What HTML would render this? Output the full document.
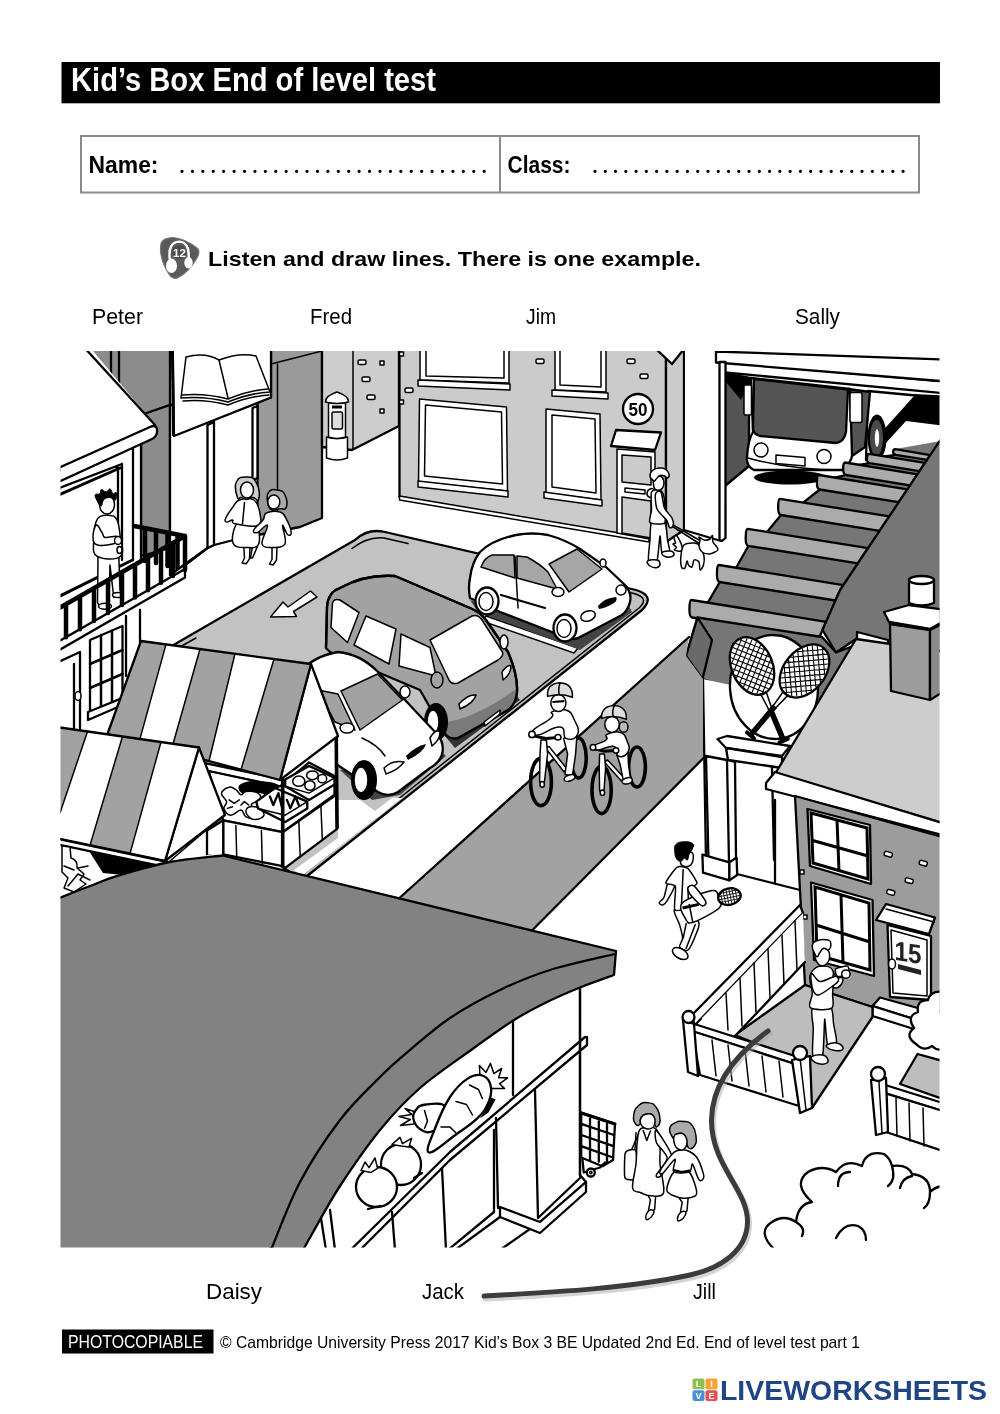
<!DOCTYPE html>
<html lang="en">
<head>
<meta charset="utf-8">
<title>Kid's Box End of level test</title>
<style>
html,body{margin:0;padding:0;background:#fff;}
body{width:1000px;height:1414px;overflow:hidden;position:relative;font-family:"Liberation Sans",sans-serif;}
svg{position:absolute;left:0;top:0;display:block;will-change:transform;}
text{font-family:"Liberation Sans",sans-serif;}
.k{stroke:#000;stroke-width:2.3;stroke-linejoin:round;stroke-linecap:round;}
.k1{stroke:#000;stroke-width:1.5;stroke-linejoin:round;stroke-linecap:round;}
.k3{stroke:#000;stroke-width:3;stroke-linejoin:round;stroke-linecap:round;}
.n{fill:none;}
.w{fill:#fff;}
</style>
</head>
<body>
<svg width="1000" height="1414" viewBox="0 0 1000 1414">
<rect x="0" y="0" width="1000" height="1414" fill="#fff"/>
<!-- header -->
<rect x="61.500" y="62" width="878.500" height="41.300" fill="#000"/>
<text x="71" y="91" font-size="33" font-weight="bold" fill="#fff" textLength="365" lengthAdjust="spacingAndGlyphs">Kid’s Box End of level test</text>
<rect x="81" y="136" width="838" height="56.500" fill="#fff" stroke="#8a8a8a" stroke-width="2"/>
<line x1="500" y1="135.5" x2="500" y2="192" stroke="#8a8a8a" stroke-width="2"/>
<text x="88.500" y="173.300" font-size="24" font-weight="bold" fill="#000" textLength="70" lengthAdjust="spacingAndGlyphs">Name:</text>
<text x="507.500" y="173.300" font-size="24" font-weight="bold" fill="#000" textLength="63" lengthAdjust="spacingAndGlyphs">Class:</text>
<line x1="182" y1="171.300" x2="485" y2="171.300" stroke="#000" stroke-width="3.300" stroke-dasharray="0 10.42" stroke-linecap="round"/>
<line x1="595" y1="171.300" x2="904" y2="171.300" stroke="#000" stroke-width="3.300" stroke-dasharray="0 10.27" stroke-linecap="round"/>
<!-- listen icon -->
<g>
<path class="" fill="#5a5a5a" stroke="#777" stroke-width="1.2" d="M 161.6 242.1 Q 164.3 237.7 173.1 237.5 Q 186.3 238.8 197.9 248.7 Q 200.1 252.0 197.3 257.5 Q 189.6 271.8 177.5 277.9 Q 173.7 279.5 170.4 276.2 Q 161.0 263.0 160.5 249.8 Q 160.5 244.3 161.6 242.1 Z"/>
<path class="" fill="none" stroke="#fff" stroke-width="2.4" d="M 169.8 259.7 Q 167.6 242.1 179.2 241.6 Q 189.6 242.1 188.7 258.1"/>
<ellipse class="" fill="#4a4a4a" cx="179.2" cy="252.0" rx="6.8" ry="6.8"/>
<ellipse class="" fill="#fff" cx="171.5" cy="265.8" rx="5.5" ry="7.2"/>
<ellipse class="" fill="#fff" cx="188.5" cy="262.7" rx="4.2" ry="5.7"/>
<text x="179.5" y="256.7" font-size="11.5" font-weight="bold" fill="#fff" text-anchor="middle">12</text>
</g>
<text x="208" y="265.500" font-size="21" font-weight="bold" fill="#000" textLength="493" lengthAdjust="spacingAndGlyphs">Listen and draw lines. There is one example.</text>
<text x="92" y="324" font-size="21.5" fill="#000" textLength="51" lengthAdjust="spacingAndGlyphs">Peter</text>
<text x="310" y="324" font-size="21.5" fill="#000" textLength="42" lengthAdjust="spacingAndGlyphs">Fred</text>
<text x="526" y="324" font-size="21.5" fill="#000" textLength="30" lengthAdjust="spacingAndGlyphs">Jim</text>
<text x="795" y="324" font-size="21.5" fill="#000" textLength="45" lengthAdjust="spacingAndGlyphs">Sally</text>
<!-- illustration -->
<defs><clipPath id="ic"><rect x="60.5" y="351" width="879" height="896.5"/></clipPath></defs>
<g clip-path="url(#ic)">
<!-- ground base line of left buildings -->
<!-- grey wall A behind left roof -->
<polygon class="k" fill="#8c8c8c" points="86,349 170,349 170,405 142.500,415 142.500,412"/>
<polygon class="k" fill="#8c8c8c" points="141,415 170,405 170,548 141,556"/>
<line class="k" x1="111" y1="349" x2="111" y2="377"/><line class="k" x1="119" y1="349" x2="119" y2="386"/>
<!-- shop with book sign -->
<polygon class="k w" points="170,405 271,397 257.500,534 214,545 207.500,548 170,575"/>
<polygon class="k" fill="#9a9a9a" points="271,349 322,349 322,518 300,527 257.500,535 257.500,397.500 271,397.500"/>
<line class="k1" x1="277.500" y1="364" x2="277.500" y2="538"/>
<line class="k1" x1="271" y1="364" x2="322" y2="351"/>
<polygon class="k w" points="207.500,425 214,422 214,545 207.500,548"/>
<polygon class="k w" points="252.500,408 257.500,406 257.500,478 252.500,480"/>
<polygon class="k w" points="172.500,349 271,349 271,397.500 174,436"/>
<line class="k3" x1="172.500" y1="351" x2="173.500" y2="435"/>
<!-- book -->
<path class="k1 w" d="M181 398 L186 357 Q205 352 219 360 Q240 352 256 356 L270 392 Q250 393 228 402 Q205 396 181 398Z"/>
<path class="k1 n" d="M219 360 L228 398 M183 401 Q205 399 228 405 Q250 396 269 395 M182 395 Q205 393 228 399 Q250 390 268 389"/>
<!-- wall D light grey with post box -->
<polygon class="k" fill="#cdcdcd" points="322,349 399,349 399,426 352,450 322,447"/>
<line class="k1" x1="353" y1="351" x2="353" y2="449"/>
<g class="k1 w"><rect x="362" y="377" width="8" height="4.500" rx="1.500"/><rect x="367" y="395" width="8" height="4.500" rx="1.500"/><rect x="358" y="360" width="8" height="4.500" rx="1.500"/><rect x="380" y="361" width="4" height="4"/><rect x="380" y="409" width="4" height="4"/></g>
<!-- post box -->
<path class="k1 w" d="M326.500 443 L326.500 458 Q337 462 347.500 458 L347.500 437 Q337 440 326.500 437Z"/>
<path class="k1 w" d="M328.500 437 L328.500 402 L345.500 402 L345.500 437 Q337 440 328.500 437Z"/>
<path class="k1 w" d="M325.500 402 Q325 396 337 392 Q349 396 348.500 402 Q337 405 325.500 402Z"/>
<rect x="332" y="405.500" width="10" height="3" fill="#000"/>
<rect class="k1" x="332" y="412" width="10.500" height="17" rx="1.500" fill="#ddd"/>
<!-- main building E -->
<polygon class="k" fill="#cbcbcb" points="399.500,349 666,349 666,542 399.500,497"/>
<polygon class="k" fill="#cbcbcb" points="666,349 684,349 684,530 666,542"/>
<polygon class="k w" points="656,349 684,349 672,364"/>
<polygon class="k1 w" points="399.500,496 649,538 649,542 399.500,500"/>
<!-- windows -->
<g class="k1 w">
<polygon points="420,349 509,349 509,383 420,380"/><polygon points="426,349 504,349 504,378 426,376"/><polygon points="418,380 510,384 510,390 418,386"/>
<polygon points="419.500,399 506.500,407 507.500,491 418.500,482"/><polygon points="425.500,405 501.500,412 502.500,484 424.500,476"/><polygon points="418,481 508,491 508,497 418,487"/>
<polygon points="555,349 606,349 606,392 555,390"/><polygon points="560,349 601,349 601,387 560,385"/><polygon points="552,390 608,393 608,399 552,396"/>
<polygon points="546,409 600,414 601,500 546,493"/><polygon points="552,415 595,419 596,493 552,487"/><polygon points="544,492 602,500 602,506 544,498"/>
<rect x="405" y="388" width="8" height="4.500" rx="1.500"/><rect x="536" y="359" width="8" height="4.500" rx="1.500"/><rect x="627" y="359" width="8" height="4.500" rx="1.500"/><rect x="640" y="374" width="8" height="4.500" rx="1.500"/><rect x="399.500" y="352" width="4" height="4"/><rect x="399.500" y="400" width="4" height="4"/>
</g>
<!-- 50 sign -->
<circle class="k w" cx="638" cy="409" r="15"/>
<text x="638" y="416" font-size="19" font-weight="bold" text-anchor="middle" textLength="19" lengthAdjust="spacingAndGlyphs">50</text>
<!-- door -->
<polygon class="k1 w" points="617,449 655,452 655,540 617,533"/>
<polygon class="k1" fill="#cbcbcb" points="622,455 651,457 651,485 622,482"/>
<polygon class="k1" fill="#cbcbcb" points="622,497 651,501 651,538 622,533"/>
<polygon class="k1 w" points="625,488 645,490 645,494 625,492"/>
<polygon class="k w" points="616,430 661,432.500 655,450 611,446"/>
<line class="k1" x1="666" y1="375" x2="666" y2="540"/>
<!-- left house (white) -->
<polygon fill="#fff" points="54,345 88,345 155,425 141,432 141,760 54,760"/>
<!-- wall lines -->
<path class="k n" d="M141 432 L141 560 M133 436 L133 560"/>
<!-- door opening frame -->
<path class="k n" d="M122 464 L122 560 M118 468 L118 560 M54 490 L122 464"/>
<!-- roof -->
<polygon class="k w" points="54,345 82,345 87.500,351 155,425 54,473"/>
<path class="k w" d="M54 470 L150 427 Q158 424 157 432 Q157 436 152 439 L54 484Z"/>
<path class="k3 n" d="M54 497 L120 468"/>
<!-- balcony back -->
<path class="k3 n" d="M54 599 L132.500 560"/>
<path d="M134 526 L185 536 M145 529 L145 561 M156 531 L156 563 M167.500 533 L167.500 566 M177.500 535 L177.500 568" stroke="#000" stroke-width="4.500" fill="none" stroke-linecap="round"/>
<!-- man on balcony -->
<polygon class="k1 w"  points="98.0,556.2 118.8,556.2 120.0,590.0 122.5,596.2 113.8,597.5 110.0,565.0 108.8,606.2 100.0,607.5 97.5,602.5"/>
<ellipse class="k1 w"  cx="105.0" cy="606.2" rx="6.5" ry="3.0"/>
<ellipse class="k1 w"  cx="118.0" cy="595.0" rx="5.5" ry="2.5"/>
<path class="k1 w"  d="M97.5 518.8 C100.8 513.9 106.1 515.2 110.0 515.5 C113.9 515.8 115.0 516.1 117.0 520.0 C119.0 523.9 119.3 527.8 120.0 535.0 C120.7 542.2 125.1 552.0 120.5 556.2 C115.9 560.5 102.3 559.5 97.0 556.2 C91.7 553.0 93.7 547.5 93.8 540.0 C93.8 532.5 94.2 523.6 97.5 518.8Z"/>
<path class="k1 w"  d="M96.2 525.0 C94.5 526.0 92.8 533.5 93.0 537.5 C93.2 541.5 93.3 543.8 97.5 545.0 C101.7 546.2 109.7 544.8 113.8 543.8 C117.8 542.8 117.5 541.5 118.0 540.0 C118.5 538.5 118.8 536.8 116.2 536.2 C113.7 535.8 107.8 538.2 105.0 537.5 C102.2 536.8 103.8 535.0 102.0 532.5 C100.2 530.0 98.0 524.0 96.2 525.0Z"/>
<ellipse class="k1 w"  cx="118.0" cy="540.5" rx="3.5" ry="4.0"/>
<ellipse class="k1 w"  cx="119.5" cy="550.0" rx="2.5" ry="3.5"/>
<ellipse class="k1 w"  cx="107.0" cy="504.5" rx="7.5" ry="9.5"/>
<path class="" fill="#000" stroke="#000" stroke-width="1" d="M98.0 502.5 C97.0 500.6 94.7 496.5 95.0 495.0 C95.3 493.5 99.0 494.7 100.0 493.8 C101.0 492.8 100.2 489.8 101.2 489.5 C102.3 489.2 104.8 492.1 106.2 492.0 C107.7 491.9 108.9 488.5 110.0 488.8 C111.1 489.0 112.0 493.1 113.0 493.8 C114.0 494.4 115.8 491.5 116.2 492.5 C116.7 493.5 116.5 499.2 115.5 500.0 C114.5 500.8 112.0 497.6 110.0 497.5 C108.0 497.4 105.2 498.0 103.8 499.5 C102.3 501.0 102.2 505.8 101.2 506.2 C100.3 506.8 99.0 504.4 98.0 502.5Z"/>
<!-- railing front -->
<polygon class="k w" points="54,644.1 185,569 185,577.500 54,653.1"/>
<path d="M54 611.1 L185 536 L185 570 M66.0 604.2 L66.0 637.2 M80.0 596.2 L80.0 629.2 M94.0 588.1 L94.0 621.1 M108.0 580.1 L108.0 613.1 M122.0 572.1 L122.0 605.1 M135.0 564.6 L135.0 597.6 M148.0 557.2 L148.0 590.2 M161.0 549.8 L161.0 582.8 M173.0 542.9 L173.0 575.9" stroke="#000" stroke-width="4.500" fill="none" stroke-linecap="round" stroke-linejoin="round"/>
<!-- lower wall: window and door -->
<path class="k n" d="M140 610 L140 668 M126 616 L126 676 M54 664 L80 652 L80 735 M74 664 L74 735"/>
<g class="k n"><polygon class="w" points="90,640 122.500,626 122.500,698 90,712"/><path d="M101 635 L101 707 M112 631 L112 703 M90 664 L122.500 650 M90 688 L122.500 674" stroke-width="2.500"/><polygon points="88,712 125,697 125,704 88,720" class="w"/></g>
<ellipse class="k1 w" cx="78" cy="696" rx="3" ry="4.500"/>
<!-- garage -->
<polygon fill="#fff" points="716,349 946,349 946,560 716,545"/>
<!-- interior dark left wall -->
<polygon class="k" fill="#555" points="725,372 749,388 749,466 725,486"/>
<polygon fill="#000" points="725,372 754,377.500 741,400 725,381"/>
<!-- black shadow right -->
<polygon fill="#000" points="914,394 946,395.500 946,426 906,421 884,445 885,430"/>
<!-- bus side -->
<polygon class="k w" points="868,391 916,395.500 885,430 883,452 866,460"/>
<polygon class="k" fill="#555" points="848,389 870,392 865,447 852,456"/>
<ellipse cx="877" cy="437.500" rx="9.500" ry="23" fill="#000"/>
<ellipse cx="876.500" cy="438" rx="6.500" ry="18" fill="#4a4a4a"/>
<ellipse cx="877" cy="438" rx="2.200" ry="9" fill="#fff"/>
<!-- bus shadow -->
<ellipse cx="790" cy="477.500" rx="36" ry="7" fill="#000"/>
<!-- bus body -->
<path class="k w" d="M751 378 L850 389 L852 455 Q852 462 842 470 L754 470 Q746 466 747 457 Q748 440 753 432Z"/>
<path class="k" fill="#555" d="M754 379 L848 389.500 L846 432 Q844 442 836 443 L760 436 Q753 434 753 428Z"/>
<rect class="k1 w" x="744" y="385" width="7.500" height="30" rx="1.500"/>
<rect class="k1 w" x="850" y="392.500" width="12" height="30" rx="2"/>
<circle class="k1 w" cx="761" cy="450" r="7"/><circle class="k1 w" cx="824" cy="456.500" r="7"/>
<polygon class="k1 w" points="776,455 805,457.500 805,466 776,463.500"/>
<path class="k1 n" d="M748 458 Q790 470 842 470"/>
<!-- beam -->
<polygon fill="#fff" points="685,351 719,351 719,540 685,531"/>
<polygon class="k w" points="725,362 946,381.500 946,393.500 725,372.500"/>
<polygon class="k w" points="716,351.500 946,359.500 946,381.500 716,362.500"/>
<!-- pillar -->
<polygon class="k w" points="719.500,362 725.500,362 725.500,538 722,541 719.500,540"/>
<line class="k" x1="684" y1="530" x2="721" y2="541"/>
<!-- corrugated roof -->
<polygon fill="#767676" points="893.8,449.2 895.8,454.8 884.5,456.5 867.5,453.8 869.5,463.2 859.2,465.0 843.8,462.5 845.8,475.0 834.5,477.7 817.5,475.0 819.5,489.5 803.2,502.7 778.8,498.8 780.8,515.0 767.0,532.1 746.2,528.8 748.2,545.8 736.0,568.0 717.5,565.0 719.5,582.0 707.7,602.8 690.0,600.0 692.0,617.5 822.5,632.0 840.0,590.0 939.5,441.2"/>
<line class="k" x1="896.0" y1="454.8" x2="884.5" y2="456.5"/>
<line class="k" x1="869.8" y1="463.2" x2="859.2" y2="465.0"/>
<line class="k" x1="846.0" y1="475.0" x2="834.5" y2="477.7"/>
<line class="k" x1="819.8" y1="489.5" x2="803.2" y2="502.7"/>
<line class="k" x1="781.0" y1="515.0" x2="767.0" y2="532.1"/>
<line class="k" x1="748.5" y1="545.8" x2="736.0" y2="568.0"/>
<line class="k" x1="719.8" y1="582.0" x2="707.7" y2="602.8"/>
<path class="k" fill="#ababab" d="M895.2 449.2 L930.2 455.1 L927.1 459.8 L895.8 454.8 Q892.8 453.8 893.2 451.7 Q893.2 449.2 895.2 449.2Z"/>
<path class="k" fill="#ababab" d="M869.0 453.8 L925.0 462.9 L919.4 471.2 L869.5 463.2 Q866.5 462.2 867.0 458.0 Q867.0 453.8 869.0 453.8Z"/>
<path class="k" fill="#ababab" d="M845.2 462.5 L917.4 474.3 L910.0 485.3 L845.8 475.0 Q842.8 474.0 843.2 468.1 Q843.2 462.5 845.2 462.5Z"/>
<path class="k" fill="#ababab" d="M819.0 475.0 L907.3 489.4 L898.7 502.2 L819.5 489.5 Q816.5 488.5 817.0 481.5 Q817.0 475.0 819.0 475.0Z"/>
<path class="k" fill="#ababab" d="M780.2 498.8 L889.2 516.4 L879.6 530.8 L780.8 515.0 Q777.8 514.0 778.2 506.1 Q778.2 498.8 780.2 498.8Z"/>
<path class="k" fill="#ababab" d="M747.8 528.8 L867.9 548.2 L857.9 563.3 L748.2 545.8 Q745.2 544.8 745.8 536.4 Q745.8 528.8 747.8 528.8Z"/>
<path class="k" fill="#ababab" d="M719.0 565.0 L843.3 585.1 L835.4 600.5 L719.5 582.0 Q716.5 581.0 717.0 572.6 Q717.0 565.0 719.0 565.0Z"/>
<path class="k" fill="#ababab" d="M691.5 600.0 L826.1 621.8 L819.1 637.8 L692.0 617.5 Q689.0 616.5 689.5 607.9 Q689.5 600.0 691.5 600.0Z"/>
<!-- big dark slope -->
<polygon class="k" fill="#767676" points="946,431.500 840,590 822.500,630 836,652.500 856,639 946,652"/>
<!-- tennis shop fascia -->
<polygon class="k" fill="#767676" points="697.500,617.500 822,637 836,652.500 856,645 812,716 702.500,679 686,656"/>
<polygon class="k" fill="#6a6a6a" points="697.500,617.500 686,656 702.500,679 712,640"/>
<!-- shop wall below fascia -->
<polygon class="w" points="703,679 800,700 775,774 795,800 795,990 703,900"/>
<line class="k" x1="703" y1="679" x2="706" y2="862"/>
<!-- racket sign -->
<ellipse class="k w" cx="774" cy="687" rx="44" ry="52" transform="rotate(-4 774 687)"/>
<g transform="translate(752 666) rotate(-23)"><ellipse cx="0" cy="0" rx="20.500" ry="30" class="k w"/><path class="n" stroke="#000" stroke-width="1.100" d="M-1.0 -29.0 L18.4 -9.6 M-18.4 -9.6 L1.0 -29.0 M-6.4 -27.4 L19.5 -1.5 M-19.5 -1.5 L6.4 -27.4 M-10.5 -24.5 L19.2 5.2 M-19.2 5.2 L10.5 -24.5 M-13.7 -20.7 L18.0 11.0 M-18.0 11.0 L13.7 -20.7 M-16.2 -16.2 L16.2 16.2 M-16.2 16.2 L16.2 -16.2 M-18.0 -11.0 L13.7 20.7 M-13.7 20.7 L18.0 -11.0 M-19.2 -5.2 L10.5 24.5 M-10.5 24.5 L19.2 -5.2 M-19.5 1.5 L6.4 27.4 M-6.4 27.4 L19.5 1.5 M-18.4 9.6 L1.0 29.0 M-1.0 29.0 L18.4 9.6"/><path d="M-3 29 L-1.500 48 M3 29 L1.500 48" class="k1 n"/><path d="M0 46 L0 81" stroke="#000" stroke-width="5.500" stroke-linecap="butt"/><path d="M-4.500 81 L4.500 81" stroke="#000" stroke-width="4" stroke-linecap="round"/></g>
<g transform="translate(804.5 671) rotate(40)"><ellipse cx="0" cy="0" rx="20.500" ry="30" class="k w"/><path class="n" stroke="#000" stroke-width="1.100" d="M-1.0 -29.0 L18.4 -9.6 M-18.4 -9.6 L1.0 -29.0 M-6.4 -27.4 L19.5 -1.5 M-19.5 -1.5 L6.4 -27.4 M-10.5 -24.5 L19.2 5.2 M-19.2 5.2 L10.5 -24.5 M-13.7 -20.7 L18.0 11.0 M-18.0 11.0 L13.7 -20.7 M-16.2 -16.2 L16.2 16.2 M-16.2 16.2 L16.2 -16.2 M-18.0 -11.0 L13.7 20.7 M-13.7 20.7 L18.0 -11.0 M-19.2 -5.2 L10.5 24.5 M-10.5 24.5 L19.2 -5.2 M-19.5 1.5 L6.4 27.4 M-6.4 27.4 L19.5 1.5 M-18.4 9.6 L1.0 29.0 M-1.0 29.0 L18.4 9.6"/><path d="M-3 29 L-1.500 48 M3 29 L1.500 48" class="k1 n"/><path d="M0 46 L0 84" stroke="#000" stroke-width="5.500" stroke-linecap="butt"/><path d="M-4.500 84 L4.500 84" stroke="#000" stroke-width="4" stroke-linecap="round"/></g>
<!-- lintel -->
<polygon class="k w" points="717.500,739 727,736 790,746 782,756 726,748"/>
<polygon class="k w" points="726,748 782,757 782,768 728,760"/>
<path class="k n" d="M772 768 L774 860"/>
<!-- pillar base -->
<polygon class="k w" points="706,756 727,760 735,762 736,858 729,863 708.400,857"/>
<line class="k" x1="727" y1="760" x2="729" y2="862"/>
<polygon class="k w" points="702.400,854.600 729.400,862.400 729.400,880.400 703,872.600"/>
<polygon class="k w" points="729.400,862.400 736.600,857.600 737.200,875 729.400,880.400"/>
<path class="k n" d="M737 874 L800 890 M775 800 L775 884"/>
<!-- house roof -->
<polygon class="k w" points="857,632 888,640 888,648 857,640"/>
<polygon class="k" fill="#cdcdcd" points="856,639 946,652 946,824 775,774"/>
<polygon class="k w" points="766,783 775,772 946,824 946,836 766,789"/>
<!-- chimney -->
<polygon class="k" fill="#9c9c9c" points="890,624 930,630 930,700 891,691"/>
<polygon class="k" fill="#8a8a8a" points="930,630 946,622 946,690 930,700"/>
<polygon class="k w" points="884,612 909,605 946,610 946,620 930,629 889,622"/>
<path class="k w" d="M909 580 L909 603 Q922 608 934 603 L934 580Z"/>
<ellipse class="k w" cx="921.500" cy="580" rx="12.500" ry="4"/>
<!-- house wall -->
<polygon class="k" fill="#9c9c9c" points="795,796 946,838 946,1012 872.500,1007 805,985"/>
<g class="k w">
<polygon points="807.500,809 870,825 871,884 810,866"/>
<polygon points="811,882.500 872.500,900 874,976 814,960"/>
</g>
<path class="n" stroke="#000" stroke-width="3" d="M811 813 L867 828 L868 879 L813 863Z M837 820 L839 871 M811 840 L868 856 M815 887 L869 903 L870 970 L817 955Z M841 895 L843 963 M816 925 L870 942"/>
<g class="k1 w"><rect x="885" y="851" width="8" height="4.500" rx="1.500" transform="rotate(15 885 851)"/><rect x="920" y="860" width="8" height="4.500" rx="1.500" transform="rotate(15 920 860)"/><rect x="906" y="877.500" width="8" height="4.500" rx="1.500" transform="rotate(15 906 877)"/><rect x="887.500" y="889" width="8" height="4.500" rx="1.500" transform="rotate(15 887 889)"/><rect x="800" y="870" width="4" height="4"/><rect x="803" y="915" width="4" height="4"/></g>
<!-- door -->
<polygon class="k w" points="887.500,925 931,936 931,1000 890,997"/>
<polygon class="k1 n" points="891,930 927,940 927,996 893,993"/>
<polygon class="k w" points="876,920 886,904 935,917.500 929,934"/>
<line class="k1" x1="886" y1="909" x2="934" y2="922"/>
<text x="908" y="962" font-size="27" font-weight="bold" text-anchor="middle" fill="#222" textLength="27" lengthAdjust="spacingAndGlyphs" transform="translate(908 955) skewY(9) translate(-908 -955)">15</text>
<polygon points="898,964 921,970 921,975 898,969" fill="#222"/>
<ellipse class="k1 w" cx="892" cy="964" rx="3.500" ry="5"/>
<polygon class="k w" points="872.500,1006 880,997.500 925,1010 917,1020"/>
<polygon class="k w" points="872.500,1006 917,1020 917,1030 872.500,1016"/>
<!-- base line of left buildings / pavement -->
<path class="k n" d="M184 566 L207.500 548"/>
<!-- road -->
<polygon fill="#a2a2a2" points="689,637 686,656 703,679 703,757.500 532.500,931 400,898"/>
<line class="k" x1="689" y1="637" x2="400" y2="897.500"/>
<line class="k" x1="704" y1="757.500" x2="532.500" y2="930"/>
<!-- car park -->
<path class="k" fill="#c2c2c2" d="M355 540 Q368 528 385 532 L636 590 Q656 596 642 610 L302 880 L120 760 L170 647Z"/>
<path class="k1 n" d="M178 648 L196 638 M352 548.500 Q368 536 384 538 L408 543.500"/>
<!-- curb double line -->
<path class="k1 n" d="M600 586 L634 593.500 Q650 598 639 608 L300 877"/>
<polygon class="w" points="338,800 360,800 375,811 392,798 402,798 302,876 294,870 338,838"/>
<!-- arrow -->
<polygon class="k1 w" points="270.500,617 283,602 288,607 310.500,591 317,597 293.500,611.500 296.500,616.500"/>
<!-- right white car -->
<g>
<polygon class="k1 w" points="486,616 578,648 574,653 482,621"/>
<path d="M470 600 L478 612 L580 650 L632 612 L628 604 L578 636Z" fill="#444"/>
<path class="k w" d="M470 598 Q468 588 470 578 Q472 562 480 552 Q492 540 516 535 Q532 532 548 535 Q566 540 580 549 L606 567 L626 586 Q632 594 630 602 Q628 610 622 615 L582 636 Q576 640 570 639 L500 612Z"/>
<path class="k1" fill="#a6a6a6" d="M481 567 Q484 558 492 555 L514 555 L515 578Z"/>
<path class="k1" fill="#a6a6a6" d="M517 556 L527 557 Q540 564 548 572 L557 589 L517 578Z"/>
<path class="k1" fill="#a6a6a6" d="M549 564 L577 549 L602 569 L569 592Z"/>
<path class="k1 n" d="M515 556 L518 608"/>
<path class="n" stroke="#000" stroke-width="2.200" stroke-linecap="round" d="M501 595 L545 608"/>
<ellipse cx="487" cy="601" rx="11.500" ry="13.500" class="k w"/><ellipse class="k1 w" cx="486" cy="601.500" rx="7" ry="9"/>
<ellipse cx="565" cy="628" rx="11.500" ry="13.500" class="k w"/><ellipse class="k1 w" cx="564" cy="628.500" rx="7" ry="9"/>
<ellipse class="k1 w" cx="588" cy="616" rx="7.500" ry="5" transform="rotate(-20 588 616)"/>
<ellipse class="k1 w" cx="621" cy="590" rx="5" ry="5"/>
<ellipse class="k1 w" cx="558" cy="592" rx="6" ry="4.500"/>
<ellipse class="k1 w" cx="603" cy="563" rx="3" ry="4"/>
<path d="M598 606 Q604 598 616 597 Q618 600 614 603 Q606 608 599 609Z" fill="#000"/>
</g>
<!-- van -->
<g>
<path d="M440 730 L455 748 L520 700 L512 690Z" fill="#333"/>
<path class="k" fill="#a2a2a2" d="M326 648 L327 607 Q328 592 340 588 Q365 574 395 576 L470 608 Q480 612 486 620 L508 652 Q518 675 517 692 Q516 704 508 710 L458 738 Q448 740 444 732 L420 690 L330 652Z"/>
<path d="M447 722 Q480 716 517 688 L517 692 Q516 704 508 710 L458 738 Q448 740 446 732Z" fill="#7a7a7a"/>
<path class="k n" d="M326 648 L327 607 Q328 592 340 588 Q365 574 395 576 L470 608 Q480 612 486 620 L508 652 Q518 675 517 692 Q516 704 508 710 L458 738 Q448 740 444 732"/>
<path class="k1 w" d="M332.500 603 Q334 598 340 600 L359 612.500 L347.500 642.500 L331 627.500Z"/>
<path class="k1 w" d="M366 616 L396 629 L389 664 L354 645Z"/>
<path class="k1 w" d="M401 634 L430 647.500 L436 676 L399 666Z"/>
<path class="k1 w" d="M430 640 L472 616 Q478 614 482 620 L502.500 652 Q504 656 498 660 L458 683 Q452 685 449 680Z"/>
<ellipse class="k1" cx="437" cy="680" rx="6" ry="8" fill="#a2a2a2"/>
<ellipse class="k1 w" cx="504" cy="642" rx="4" ry="7"/>
<path class="k1 w" d="M459 704 Q468 694 476 695 Q474 703 460 709Z"/>
<path class="k1 w" d="M502 672 Q508 664 511 666 Q511 674 503 680Z"/>
<polygon class="k1 w" points="484,722 500,710 500,714 485,726"/>
<ellipse cx="436" cy="722" rx="12" ry="19" fill="#000"/><ellipse class="k1 w" cx="433" cy="722" rx="6" ry="12"/>
</g>
<!-- white car front-left -->
<g>
<path d="M340 770 L372 800 L400 795 L446 756 L440 750Z" fill="#444"/>
<path class="k w" d="M300 672 Q314 656 338 652 Q360 654 377 671 L405 700 L437 734 Q444 742 442.500 752 Q441 762 430 768 L398 792 Q388 798 378 792 L337.500 765 L300 740Z"/>
<path class="k1" fill="#a2a2a2" d="M341 691 L377.500 674 L402.500 700 L360 730Z"/>
<path class="k1" fill="#a2a2a2" d="M318 690 L338 694 L355 730 L335 722Z"/>
<path class="k1 n" d="M362 738 Q378 745 385 756"/>
<ellipse class="k1 w" cx="347" cy="728" rx="7" ry="5"/>
<ellipse class="k1 w" cx="405" cy="692" rx="5" ry="6"/>
<path class="k1 w" d="M384 768 Q392 760 404 762 Q398 770 386 774Z"/>
<path class="k1 w" d="M430 738 Q436 728 440 732 Q440 740 432 746Z"/>
<path d="M406 756 Q416 746 426 744 Q424 752 408 760Z" fill="#000"/>
<ellipse cx="364" cy="780" rx="13" ry="20" fill="#000"/><ellipse class="k1 w" cx="361" cy="780" rx="7" ry="13"/>
</g>
<!-- stall / table -->
<polygon class="w"  points="206.2,763.4 280.1,778.7 336.2,733.6 337.1,828.8 285.2,867.9 223.2,854.3 223.2,815.2"/>
<polygon class="k w"  points="208.7,771.0 280.1,786.3 309.0,762.5 334.5,776.1 334.5,794.8 282.7,832.2 223.2,820.3"/>
<polyline class="k n"  points="206.2,763.4 280.1,778.7"/>
<polyline class="k1 n"  points="208.7,771.0 280.1,786.3"/>
<polygon class="k w"  points="223.2,820.3 282.7,832.2 282.7,866.2 223.2,854.3"/>
<polygon class="k w"  points="282.7,832.2 336.2,794.8 337.1,828.8 285.2,867.9 282.7,866.2"/>
<polygon class="k w"  points="207.0,830.5 223.2,820.3 223.2,854.3 207.0,856.0"/>
<polyline class="k1 n"  points="235.9,825.4 236.8,859.4"/>
<polyline class="k1 n"  points="261.4,830.5 262.3,864.5"/>
<polyline class="k1 n"  points="298.8,821.2 300.2,856.0"/>
<polyline class="k1 n"  points="320.9,805.9 322.3,839.0"/>
<path class="" fill="#000" d="M238.5 788.0 C238.5 785.0 240.7 783.6 246.1 782.1 C251.5 780.5 253.9 780.4 261.4 781.2 C268.9 782.0 276.4 782.3 278.4 785.5 C280.4 788.6 274.7 793.0 269.9 794.8 C265.1 796.6 263.6 793.1 258.0 793.1 C252.5 793.1 250.7 796.0 246.1 794.8 C241.5 793.6 238.5 791.0 238.5 788.0Z"/>
<path class="k1 w"  d="M221.5 793.1 C222.0 790.2 226.2 787.8 229.1 787.2 C232.0 786.5 233.5 788.2 235.9 789.7 C238.3 791.2 239.0 794.5 241.0 794.8 C243.0 795.1 242.7 791.7 246.1 791.4 C249.5 791.1 255.3 791.4 258.0 793.1 C260.7 794.8 261.1 797.5 259.7 799.9 C258.3 802.3 250.9 802.6 251.2 805.0 C251.5 807.4 260.0 809.1 261.4 811.8 C262.8 814.5 261.1 817.6 258.0 818.6 C254.9 819.6 249.5 818.6 246.1 816.9 C242.7 815.2 244.1 810.4 241.0 810.1 C237.9 809.8 234.2 815.5 230.8 815.2 C227.4 814.9 224.9 811.1 224.0 808.4 C223.2 805.7 227.1 804.7 226.6 801.6 C226.0 798.5 220.9 796.0 221.5 793.1Z"/>
<polyline class="k1 n"  points="229.1,799.9 234.2,803.3 239.3,799.9"/>
<polyline class="k1 n"  points="241.0,805.0 244.4,801.6 248.7,805.0"/>
<polyline class="k1 n"  points="227.4,808.4 232.5,806.7"/>
<path class="k1 w"  d="M246.1 810.1 C246.9 807.3 250.6 806.3 254.6 806.7 C258.6 807.1 261.5 809.2 263.1 811.8 C264.7 814.4 264.2 816.2 261.4 817.8 C258.6 819.3 254.8 820.4 251.2 818.6 C247.6 816.8 245.3 812.9 246.1 810.1Z"/>
<polygon class="k w"  points="256.3,801.6 275.0,788.0 307.3,801.6 307.3,808.4 285.2,822.0 258.0,808.4"/>
<polyline class="k1 n"  points="258.0,808.4 285.2,815.2 307.3,801.6"/>
<polyline class="k n"  points="269.9,796.5 273.3,805.0 278.4,793.1 281.8,806.7"/>
<polyline class="k n"  points="286.9,799.9 290.3,808.4 295.4,796.5 298.8,805.0"/>
<polygon class="k w"  points="285.2,779.5 309.0,765.9 334.5,777.8 334.5,784.6 309.0,799.9 285.2,786.3"/>
<polyline class="k1 n"  points="285.2,786.3 309.0,793.1 334.5,777.8"/>
<ellipse class="k1 w"  cx="298.8" cy="781.2" rx="6.1" ry="5.1"/>
<ellipse class="k1 w"  cx="309.9" cy="785.5" rx="5.1" ry="4.8"/>
<ellipse class="k1 w"  cx="312.4" cy="775.3" rx="5.8" ry="4.4"/>
<ellipse class="k1 w"  cx="322.3" cy="778.7" rx="4.4" ry="4.1"/>
<polyline class="n" stroke="#000" stroke-width="3.600" points="282.7,778.7 282.7,866.5"/>
<polyline class="n" stroke="#000" stroke-width="3.600" points="336.2,733.6 337.1,828.8"/>
<!-- awning 1 -->
<polygon class="k w" points="311,664 338,736 280,780"/>
<polygon class="w" points="141,641 311,664 280,780 107.500,734"/>
<polygon fill="#a2a2a2" points="141,641 166,644.400 139,742.400 107.500,734"/>
<polygon fill="#a2a2a2" points="200,649 235,653.700 209,761 171,751"/>
<polygon fill="#a2a2a2" points="274,659 311,664 280,780 241,769.600"/>
<path class="k1 n" d="M166 644.400 L139 742.400 M200 649 L171 751 M235 653.700 L209 761 M274 659 L241 769.600"/>
<polygon class="k n" points="141,641 311,664 280,780 107.500,734"/>
<!-- awning 2 -->
<polygon class="k w" points="199,747.500 225,815 165,861"/>
<polygon class="w" points="60,727.500 199,747.500 165,861 60,839"/>
<polygon fill="#a2a2a2" points="60,727.500 87.500,731.500 60,813"/>
<polygon fill="#a2a2a2" points="122.500,736.500 161,742 130,853.600 90,845.200"/>
<path class="k1 n" d="M87.500 731.500 L60 813 M122.500 736.500 L90 845.200 M161 742 L130 853.600"/>
<polygon class="k n" points="58,727.200 199,747.500 165,861 58,838.500"/>
<!-- under awning 2: stall items -->
<polygon class="w" points="58,842 165,864 222,852 222,870 125,876 58,898"/>
<polygon fill="#000" points="89,851 163,864.500 150,868 123,875 103,873 96,862"/>
<polygon class="k w" points="58,839 168,862 160,866 58,844.500"/>
<path class="k1 w" d="M62 846 L70 847 L71 858 Q78 860 77 868 L84 874 L80 880 L86 884 L74 892 L64 888 L68 878 L62 872Z"/>
<path class="k1 n" d="M68 886 L78 874 L90 880 M64 866 L74 870 M78 868 L88 866"/>
<path class="k1 n" d="M170 861 L224 815"/>
<!-- yard floors -->
<polygon class="k" fill="#bdbdbd" points="805,985 735,1035 800,1062 812,1108 872.500,1017 872.500,1007"/>
<polygon class="k" fill="#bdbdbd" points="917.500,1054 946,1062 946,1100 900,1084"/>
<!-- side fence (left yard) -->
<polygon class="k w" points="800,905 803,913 695,1025 691,1016"/>
<polygon class="w" points="803,913 805,962 736,1035 702,1030 702,1018"/>
<path class="k1 n" d="M795 921 L797 970 M782 935 L784 984 M768 949 L770 998 M754 963 L756 1012 M740 978 L742 1026 M726 993 L728 1030"/>
<line class="k" x1="805" y1="962" x2="736" y2="1035"/>
<!-- front fence left yard -->
<polygon class="k w" points="688,1022 795,1056 795,1064 688,1030"/>
<polygon class="k w" points="692,1031 795,1064 799,1106 700,1075"/>
<path class="k1 n" d="M712 1040 L716 1076 M728 1045 L732 1081 M745 1050 L749 1086 M762 1056 L766 1092 M779 1061 L783 1097"/>
<polygon class="k w" points="683,1020 694,1024 698,1076 688,1072"/>
<circle class="k w" cx="688.500" cy="1017" r="6"/>
<polygon class="k w" points="792,1060 810,1056 812,1108 800,1113"/>
<line class="k1" x1="800" y1="1058" x2="806" y2="1110"/>
<circle class="k w" cx="800" cy="1053" r="7"/>
<!-- right yard fence -->
<polygon class="k w" points="882,1084 946,1104 946,1112 882,1092"/>
<polygon class="k w" points="884,1093 946,1112 946,1152 886,1132"/>
<path class="k1 n" d="M896 1098 L897 1136 M909 1103 L910 1141 M923 1108 L924 1146"/>
<polygon class="k w" points="871,1080 886,1078 888,1132 876,1135"/>
<line class="k1" x1="879" y1="1082" x2="882" y2="1133"/>
<circle class="k w" cx="878" cy="1074" r="7"/>
<!-- bush near door -->
<path class="k w" d="M945 992 Q930 990 928 1000 Q916 1000 918 1012 Q906 1016 914 1028 Q904 1036 916 1044 Q924 1052 932 1046 Q938 1052 945 1048Z"/>
<!-- bush bottom right -->
<path class="k w" d="M775 1250 Q756 1232 772 1222 Q784 1214 796 1222 Q798 1204 812 1202 Q792 1184 808 1172 Q822 1164 836 1172 Q846 1158 862 1166 Q866 1150 884 1154 Q890 1158 892 1166 Q908 1164 912 1174 Q930 1176 930 1192 Q936 1186 945 1186 L946 1250Z"/>
<path class="k n" d="M838 1186 Q838 1172 850 1172 M892 1166 Q896 1180 888 1186 M912 1176 Q902 1178 900 1188 M836 1238 Q844 1222 858 1226 Q866 1230 866 1240 M924 1208 Q930 1204 930 1192 M796 1222 Q806 1228 802 1236"/>
<!-- veg building under roof -->
<polygon class="k w" points="300,1100 500,980 580,975 580,1175 586,1182 540,1222 500,1250 270,1250"/>
<path class="k n" d="M580 985 L580 1176 M513 1020 L513 1095 M450 1152 L585 1037 M450 1160 L587 1045 L587 1037 M352.500 1248 L450 1152 M362 1248 L450 1160"/>
<path class="k n" d="M496 1118 L498 1208 M535 1090 L538 1218 M538 1218 L580 1178"/>
<polygon class="k w" points="500,1207 540,1222 586,1182 586,1192 540,1233 500,1217"/>
<path class="k n" d="M500 1217 L455 1250 M494 1212 L448 1250 M494 1130 L494 1212"/>
<path class="k n" d="M392 1212 L395 1250 M442 1168 L446 1250 M320 1212 L326 1250 M330 1210 L335 1250"/>
<!-- fruits -->
<ellipse class="k w" cx="401" cy="1164.500" rx="20" ry="20.500"/>
<ellipse class="k w" cx="376.500" cy="1187" rx="20.500" ry="20"/>
<polygon class="k1 w"  points="392.0,1144.4 400.0,1137.4 402.4,1143.6 411.6,1138.4 409.0,1147.0 401.0,1146.0"/>
<polygon class="k1 w"  points="361.0,1170.6 365.0,1162.0 369.0,1167.6 375.0,1158.0 377.6,1168.4 371.0,1172.4"/>
<polyline class="k n"  points="414.0,1178.0 422.0,1173.0"/>
<polyline class="k n"  points="368.0,1209.0 380.0,1206.0"/>
<polygon class="k1 w"  points="415.5,1112.0 405.0,1108.4 411.6,1114.4 399.0,1116.5 410.4,1119.5 400.5,1125.5 414.0,1124.0"/>
<path class="k w"  d="M415.5 1110.5 C418.3 1106.7 419.0 1105.4 426.0 1104.5 C433.0 1103.6 442.0 1102.1 445.5 1106.6 C449.0 1111.2 444.2 1118.2 441.0 1124.0 C437.9 1129.8 436.6 1130.1 432.0 1131.5 C427.5 1132.9 425.7 1132.5 421.5 1130.0 C417.3 1127.6 415.4 1125.6 414.0 1121.0 C412.6 1116.5 412.7 1114.4 415.5 1110.5Z"/>
<polyline class="k1 n"  points="424.5,1110.5 427.5,1121.0 424.5,1128.5"/>
<polygon class="k1 w"  points="480.0,1076.6 479.4,1065.5 486.0,1072.4 490.5,1063.4 493.8,1073.6 501.6,1068.5 498.6,1077.8 507.6,1077.8 499.5,1083.8 504.6,1088.6 492.0,1088.6"/>
<path class="k w"  d="M429.0 1152.5 C424.8 1151.3 430.8 1139.6 435.0 1128.5 C439.2 1117.4 443.4 1107.0 450.0 1097.0 C456.6 1087.0 461.3 1082.6 468.0 1078.4 C474.7 1074.2 479.0 1074.1 483.6 1076.0 C488.2 1077.9 490.3 1082.3 491.1 1088.0 C491.9 1093.7 490.3 1098.4 487.5 1104.5 C484.7 1110.6 483.3 1112.6 477.0 1118.6 C470.7 1124.6 465.6 1127.7 456.0 1134.5 C446.4 1141.3 433.2 1153.7 429.0 1152.5Z"/>
<polyline class="k1 n"  points="456.0,1101.5 466.5,1104.5 472.5,1115.0"/>
<polyline class="k1 n"  points="469.5,1085.0 478.5,1089.5 482.4,1098.5"/>
<polyline class="k1 n"  points="441.0,1127.0 450.0,1127.0 456.0,1133.0"/>
<polygon class="" fill="#000" points="489.6,1097.0 495.6,1099.4 488.4,1112.6 480.0,1118.6 486.6,1107.5"/>
<!-- big roof -->
<path class="k" fill="#828282" d="M58 898.5 C63.3 896.4 80.0 889.8 90.0 886.0 C100.0 882.2 104.7 879.6 118.0 875.6 C131.3 871.6 152.6 865.4 170.0 862.0 C187.4 858.6 213.8 856.6 222.5 855.5 L616 951 L614 975 C608.3 977.1 591.5 982.8 580.0 987.5 C568.5 992.2 556.2 997.4 545.0 1003.0 C533.8 1008.6 524.6 1013.3 512.5 1021.0 C500.4 1028.7 487.9 1037.8 472.5 1049.0 C457.1 1060.2 435.4 1074.5 420.0 1088.0 C404.6 1101.5 393.3 1113.7 380.0 1130.0 C366.7 1146.3 351.3 1168.7 340.0 1186.0 C328.7 1203.3 318.7 1222.3 312.0 1234.0 C305.3 1245.7 302.0 1252.3 300.0 1256.0 L58 1256Z"/>
<path class="k n" d="M615 954 C604.2 956.7 569.2 964.0 550.0 970.0 C530.8 976.0 516.7 982.0 500.0 990.0 C483.3 998.0 465.0 1008.0 450.0 1018.0 C435.0 1028.0 421.7 1040.2 410.0 1050.0 C398.3 1059.8 391.7 1065.3 380.0 1077.0 C368.3 1088.7 353.3 1102.5 340.0 1120.0 C326.7 1137.5 311.5 1160.3 300.0 1182.0 C288.5 1203.7 275.8 1238.7 271.0 1250.0"/>
<!-- (people moved to separate parts) -->
<!-- woman+girl top-left -->
<polygon class="k1 w"  points="243.8,546.2 250.0,546.2 249.5,558.8 246.2,563.8 242.0,563.0 244.5,558.0"/>
<polygon class="k1 w"  points="252.5,546.2 257.5,546.2 252.5,558.0 250.5,558.0"/>
<path class="k1 w"  d="M238.0 522.5 C242.4 518.4 250.8 518.2 255.0 522.5 C259.1 526.8 260.5 538.8 258.8 543.8 C257.0 548.8 251.4 547.6 246.2 547.5 C241.1 547.4 234.7 548.0 233.0 543.0 C231.3 538.0 233.6 526.6 238.0 522.5Z"/>
<path class="k1 w"  d="M239.5 500.0 C243.8 498.5 249.7 497.2 253.8 500.0 C257.9 502.8 259.2 508.6 260.0 513.8 C260.8 518.9 262.5 523.5 257.5 525.5 C252.5 527.5 240.0 524.9 235.0 523.8 C230.0 522.6 234.1 520.4 232.5 520.0 C230.9 519.6 228.4 522.2 227.0 522.0 C225.6 521.8 224.4 521.6 225.5 518.8 C226.6 515.9 229.7 511.2 232.5 507.5 C235.3 503.8 235.2 501.5 239.5 500.0Z"/>
<polyline class="k1 n"  points="244.5,502.5 242.5,523.8"/>
<path class="k1" fill="#ccc" d="M237.5 497.5 C236.2 493.5 233.9 488.0 236.2 482.5 C238.6 477.0 240.9 477.0 246.2 477.0 C251.6 477.0 252.9 476.7 256.2 482.5 C259.6 488.3 259.8 494.8 258.8 498.8 C257.8 502.8 255.8 497.3 252.5 497.5 C249.2 497.7 249.2 499.5 246.2 499.5 C243.2 499.5 243.6 498.0 241.2 497.5 C238.9 497.0 238.8 501.5 237.5 497.5Z"/>
<ellipse class="k1 w"  cx="247.0" cy="490.0" rx="6.5" ry="8.0"/>
<polygon class="k1 w"  points="272.0,546.2 277.0,546.2 276.5,560.0 273.0,565.0 269.5,564.0 272.0,559.5"/>
<path class="k1 w"  d="M266.2 513.0 C269.6 511.4 276.0 510.9 280.0 512.0 C284.0 513.1 284.0 514.6 286.2 518.8 C288.5 522.9 291.0 529.4 291.2 532.5 C291.5 535.6 289.2 535.9 287.5 534.5 C285.8 533.1 283.0 523.6 282.5 525.5 C282.0 527.4 287.0 539.4 285.0 543.8 C283.0 548.1 277.1 547.5 272.5 547.5 C267.9 547.5 263.0 548.1 262.0 543.8 C261.0 539.4 268.4 527.8 267.5 525.5 C266.6 523.2 260.2 531.6 257.5 532.5 C254.8 533.4 252.7 532.5 253.8 530.0 C254.8 527.5 260.5 523.4 263.0 520.0 C265.5 516.6 262.9 514.6 266.2 513.0Z"/>
<path class="k1" fill="#aaa" d="M267.5 501.2 C267.2 496.8 266.1 495.0 268.8 492.0 C271.4 489.0 273.2 489.2 277.5 490.0 C281.8 490.8 282.7 490.3 285.0 495.0 C287.3 499.7 287.6 503.8 286.2 507.5 C284.9 511.2 283.0 508.1 280.0 508.8 C277.0 509.4 277.7 510.0 275.0 510.0 C272.3 510.0 272.0 511.1 270.0 508.8 C268.0 506.4 267.8 505.7 267.5 501.2Z"/>
<ellipse class="k1 w"  cx="273.8" cy="502.0" rx="6.0" ry="7.0"/>
<!-- cyclists -->
<ellipse class="" fill="none" stroke="#000" stroke-width="3.6" cx="578.6" cy="758.0" rx="7.6" ry="20.0"/>
<polygon class="k1 w"  points="545.6,748.0 549.0,746.4 567.0,769.0 564.0,772.0"/>
<polygon class="k1 w"  points="563.6,738.4 577.0,734.4 575.6,754.0 572.4,776.0 565.0,774.4 567.6,754.0"/>
<ellipse class="k1 w"  cx="569.6" cy="778.0" rx="5.6" ry="3.0" transform="rotate(-20 569.6 778.0)"/>
<ellipse class="" fill="none" stroke="#000" stroke-width="3.6" cx="541.0" cy="782.0" rx="10.4" ry="23.6"/>
<polygon class="k1 w"  points="541.0,740.0 546.4,740.0 547.6,754.0 544.4,782.0 539.6,782.0 540.0,754.0"/>
<ellipse class="k1 w"  cx="542.2" cy="784.4" rx="2.2" ry="2.8"/>
<polyline class="n" stroke="#000" stroke-width="3" stroke-linecap="round" points="532.0,735.6 546.0,738.4 558.4,737.6"/>
<path class="k1 w"  d="M552.4 711.6 C556.4 709.5 560.1 707.8 566.0 710.0 C571.9 712.2 571.3 713.5 574.4 720.0 C577.5 726.5 579.8 729.5 577.6 734.4 C575.4 739.3 570.7 740.4 566.0 738.4 C561.3 736.4 567.5 727.9 560.0 727.0 C552.5 726.1 545.2 734.1 538.0 735.0 C530.8 735.9 529.5 734.9 533.0 730.4 C536.5 725.9 545.8 723.0 551.0 718.0 C556.2 713.0 548.4 713.7 552.4 711.6Z"/>
<ellipse class="k1 w"  cx="532.0" cy="734.4" rx="3.2" ry="3.2"/>
<ellipse class="k1 w"  cx="558.0" cy="737.2" rx="3.0" ry="2.8"/>
<ellipse class="k1 w"  cx="558.4" cy="703.0" rx="7.6" ry="8.4"/>
<path class="n" stroke="#000" stroke-width="2.200" d="M 552.4 702.0 L 564.4 701.2"/>
<path class="k1" fill="#ddd" d="M 547.6 696.4 Q 546.4 683.6 560.0 682.8 Q 573.2 683.6 572.4 697.2 Q 560.0 692.8 547.6 696.4 Z"/>
<path class="k1 n"  d="M 560.0 682.8 Q 558.0 690.0 559.2 694.0"/>
<ellipse class="" fill="none" stroke="#000" stroke-width="3.6" cx="637.0" cy="767.0" rx="8.4" ry="20.0"/>
<polygon class="k1 w"  points="604.4,762.0 607.6,760.0 624.4,778.0 621.2,780.8"/>
<polygon class="k1 w"  points="617.0,755.6 628.0,751.6 628.4,764.0 630.4,778.0 623.2,780.0 620.0,764.0"/>
<ellipse class="k1 w"  cx="627.2" cy="780.8" rx="5.2" ry="3.0" transform="rotate(-15 627.2 780.8)"/>
<ellipse class="" fill="none" stroke="#000" stroke-width="3.6" cx="601.6" cy="790.0" rx="9.6" ry="23.6"/>
<polygon class="k1 w"  points="599.6,754.0 604.4,754.0 605.6,768.0 604.0,791.0 599.6,791.0 599.2,768.0"/>
<ellipse class="k1 w"  cx="602.4" cy="792.8" rx="2.2" ry="2.8"/>
<polyline class="n" stroke="#000" stroke-width="3" stroke-linecap="round" points="592.4,748.0 604.0,751.2 616.4,750.4"/>
<ellipse class="k1" fill="#bbb" cx="623.6" cy="727.0" rx="4.4" ry="5.2"/>
<path class="k1 w"  d="M607.0 734.4 C610.7 732.4 614.7 730.6 620.0 732.4 C625.3 734.2 624.9 735.8 627.0 741.0 C629.1 746.2 630.4 748.0 628.0 752.0 C625.6 756.0 621.7 757.5 618.0 756.0 C614.3 754.5 619.3 748.0 614.0 746.4 C608.7 744.8 603.3 750.1 598.0 750.0 C592.7 749.9 591.9 748.7 594.0 746.0 C596.1 743.3 602.5 743.1 606.0 740.0 C609.5 736.9 603.3 736.4 607.0 734.4Z"/>
<ellipse class="k1 w"  cx="593.0" cy="747.4" rx="2.8" ry="2.8"/>
<ellipse class="k1 w"  cx="616.0" cy="750.4" rx="2.8" ry="2.6"/>
<ellipse class="k1 w"  cx="612.0" cy="724.4" rx="7.2" ry="8.0"/>
<path class="k1" fill="#ddd" d="M 601.6 718.4 Q 600.8 706.4 614.0 705.6 Q 627.2 706.4 626.4 719.2 Q 614.0 714.4 601.6 718.4 Z"/>
<path class="k1 n"  d="M 614.0 705.6 Q 612.0 712.4 613.2 716.0"/>
<!-- woman+girl bottom -->
<polygon class="k1 w"  points="647.4,1194.0 655.8,1194.0 654.6,1209.6 651.0,1212.0 648.6,1210.2 650.4,1200.0"/>
<path class="k1 w"  d="M648.0 1211.4 C649.6 1209.6 651.5 1209.6 652.8 1210.2 C654.1 1210.8 654.4 1211.7 653.4 1213.8 C652.4 1215.9 650.4 1218.2 648.6 1219.2 C646.8 1220.2 646.0 1219.8 645.8 1218.0 C645.7 1216.2 646.4 1213.2 648.0 1211.4Z"/>
<polyline class="k1 n"  points="639.6,1131.6 630.6,1152.0"/>
<polyline class="k1 n"  points="636.0,1132.8 634.8,1152.0"/>
<path class="k1 w"  d="M625.4 1152.6 C626.6 1150.1 634.6 1148.3 635.8 1150.8 C636.9 1153.3 637.4 1174.9 636.6 1177.8 C635.8 1180.7 628.8 1179.8 627.6 1179.6 C626.4 1179.4 624.8 1178.7 624.6 1176.0 C624.4 1173.3 624.3 1155.1 625.4 1152.6Z"/>
<path class="k1 w"  d="M640.8 1128.6 C644.0 1126.4 653.2 1126.1 656.4 1129.2 C659.6 1132.3 659.4 1141.4 660.0 1147.2 C660.6 1153.0 659.4 1156.4 660.0 1164.0 C660.6 1171.6 665.2 1187.5 663.6 1192.8 C662.0 1198.1 654.2 1195.8 650.4 1195.8 C646.6 1195.8 643.8 1194.1 640.8 1192.8 C637.8 1191.5 633.4 1192.8 632.6 1188.0 C631.8 1183.2 635.2 1171.6 636.0 1164.0 C636.8 1156.4 636.4 1148.3 637.2 1142.4 C638.0 1136.5 637.6 1130.8 640.8 1128.6Z"/>
<path class="k1 w"  d="M656.4 1130.4 C658.5 1132.3 671.1 1151.1 672.0 1156.8 C672.9 1162.5 664.8 1170.3 663.0 1173.0 C661.2 1175.7 659.7 1177.0 658.8 1177.2 C657.9 1177.4 655.3 1177.4 656.4 1174.8 C657.5 1172.2 667.2 1162.3 667.2 1158.0 C667.2 1153.7 657.8 1146.1 656.4 1142.4 C655.0 1138.7 654.3 1128.5 656.4 1130.4Z"/>
<polyline class="k1 n"  points="643.2,1130.4 646.8,1140.6 650.4,1131.0"/>
<path class="k1" fill="#aaa" d="M636.0 1124.4 C634.2 1122.3 633.0 1121.0 633.6 1116.0 C634.2 1111.0 634.6 1109.3 638.4 1105.8 C642.2 1102.3 643.2 1102.3 648.0 1102.8 C652.8 1103.3 653.2 1103.1 656.4 1107.6 C659.6 1112.1 659.7 1114.6 660.0 1119.6 C660.3 1124.6 659.0 1124.9 657.6 1126.2 C656.2 1127.5 655.7 1127.1 654.6 1124.4 C653.5 1121.7 655.8 1118.7 653.4 1116.0 C651.0 1113.3 649.0 1113.6 645.6 1114.2 C642.2 1114.8 642.2 1115.8 640.8 1118.4 C639.4 1121.0 641.5 1122.2 640.2 1123.8 C638.9 1125.4 637.8 1126.5 636.0 1124.4Z"/>
<path class="k1 w"  d="M640.8 1118.4 C642.1 1115.8 642.2 1114.8 645.6 1114.2 C649.0 1113.6 651.0 1113.3 653.4 1116.0 C655.8 1118.7 655.4 1121.0 654.6 1124.4 C653.8 1127.8 653.1 1127.6 650.4 1128.6 C647.7 1129.6 647.0 1129.3 644.4 1128.0 C641.8 1126.7 641.8 1126.4 640.8 1123.8 C639.8 1121.2 639.5 1121.0 640.8 1118.4Z"/>
<polygon class="k1 w"  points="678.6,1197.0 688.2,1197.0 687.0,1210.8 683.4,1213.2 680.6,1211.4 682.2,1202.4"/>
<path class="k1 w"  d="M679.8 1213.2 C681.5 1211.4 683.3 1211.0 684.6 1211.4 C685.9 1211.8 686.4 1212.9 685.4 1215.0 C684.5 1217.1 682.3 1219.4 680.4 1220.4 C678.5 1221.4 677.5 1220.9 677.4 1219.2 C677.3 1217.5 678.1 1215.0 679.8 1213.2Z"/>
<path class="k1 w"  d="M673.8 1172.4 C676.8 1169.9 686.4 1169.5 689.4 1172.4 C692.4 1175.3 697.5 1190.6 696.6 1194.0 C695.7 1197.4 686.8 1198.6 682.8 1198.2 C678.8 1197.8 668.2 1194.4 667.0 1191.0 C665.8 1187.6 670.8 1174.9 673.8 1172.4Z"/>
<path class="k1 w"  d="M676.8 1150.8 C679.1 1150.0 683.3 1149.1 686.4 1150.2 C689.5 1151.3 694.6 1154.1 697.2 1158.0 C699.8 1161.9 703.4 1172.6 703.8 1176.0 C704.3 1179.4 701.2 1180.8 700.2 1180.8 C699.2 1180.8 698.4 1178.5 697.2 1176.0 C696.0 1173.5 693.6 1164.6 692.4 1164.0 C691.2 1163.4 692.2 1170.6 689.4 1171.8 C686.6 1173.0 676.0 1173.7 673.8 1171.8 C671.6 1169.9 676.6 1159.0 675.0 1159.2 C673.4 1159.4 665.3 1171.2 663.0 1173.0 C660.8 1174.8 658.8 1173.8 660.0 1171.2 C661.2 1168.6 668.3 1158.7 670.8 1155.6 C673.3 1152.5 674.5 1151.6 676.8 1150.8Z"/>
<polyline class="k n"  points="673.8,1170.2 681.6,1172.2 689.4,1170.6"/>
<path class="k1" fill="#aaa" d="M672.0 1136.4 C670.9 1134.2 669.0 1132.7 669.6 1129.2 C670.2 1125.7 670.6 1125.3 674.4 1123.2 C678.2 1121.1 679.2 1120.8 684.0 1121.4 C688.8 1122.0 689.2 1121.6 692.4 1125.6 C695.6 1129.6 695.4 1131.1 696.0 1136.4 C696.6 1141.7 696.6 1142.2 694.8 1145.4 C693.0 1148.6 691.6 1149.2 689.4 1148.4 C687.2 1147.6 687.8 1146.1 686.4 1142.4 C685.0 1138.7 686.6 1136.8 684.0 1134.6 C681.4 1132.4 679.5 1133.2 676.8 1134.0 C674.1 1134.8 675.1 1137.0 673.8 1137.6 C672.5 1138.2 673.1 1138.6 672.0 1136.4Z"/>
<path class="k1 w"  d="M673.8 1137.6 C674.4 1135.0 674.1 1134.8 676.8 1134.0 C679.5 1133.2 681.3 1132.4 684.0 1134.6 C686.7 1136.8 687.0 1138.6 687.0 1142.4 C687.0 1146.2 686.4 1147.2 684.0 1149.0 C681.6 1150.8 680.6 1150.4 678.0 1149.0 C675.4 1147.6 675.5 1146.6 674.4 1143.6 C673.3 1140.6 673.2 1140.2 673.8 1137.6Z"/>
<!-- cart -->
<polygon class="k w"  points="581.2,1112.5 615.0,1123.8 613.0,1160.0 602.5,1166.2 581.2,1157.5"/>
<polyline class="k n"  points="581.2,1123.8 614.0,1135.0"/>
<polyline class="k n"  points="581.2,1135.0 613.5,1146.2"/>
<polyline class="k n"  points="581.2,1146.2 613.0,1157.5"/>
<polyline class="k n"  points="590.0,1118.4 590.0,1160.9"/>
<polyline class="k n"  points="598.8,1121.3 598.8,1161.8"/>
<polyline class="k n"  points="607.0,1124.0 607.0,1162.6"/>
<polyline class="k3 n"  points="581.2,1113.0 615.0,1124.0"/>
<polyline class="k n"  points="582.5,1160.0 583.8,1172.5 600.0,1167.5 605.0,1162.5"/>
<ellipse class="k w"  cx="590.8" cy="1172.5" rx="4.0" ry="4.0"/>
<ellipse class="k1 n"  cx="590.8" cy="1172.5" rx="1.2" ry="1.2"/>
<!-- tennis boy -->
<path class="k1 w"  d="M674.2 909.8 C675.3 907.6 684.7 906.3 688.0 908.0 C691.3 909.7 697.7 919.0 698.8 922.4 C699.9 925.8 697.8 929.5 696.4 933.2 C695.0 936.9 690.2 948.2 688.0 950.0 C685.8 951.8 680.3 948.6 679.6 947.0 C678.9 945.4 682.6 941.0 682.6 938.0 C682.6 935.0 680.7 928.6 679.6 924.8 C678.5 921.0 673.1 912.0 674.2 909.8Z"/>
<polyline class="k1 n"  points="686.2,923.6 683.2,938.0"/>
<polyline class="k1 n"  points="695.2,924.8 686.2,948.2"/>
<ellipse class="k1 w"  cx="680.2" cy="953.6" rx="8.6" ry="4.8" transform="rotate(30 680.2 953.6)"/>
<path class="k1 w"  d="M668.2 882.8 C670.0 880.8 675.0 882.2 674.8 885.2 C674.6 888.2 669.0 897.5 667.0 900.8 C665.0 904.1 664.1 904.7 662.8 905.0 C661.5 905.3 659.0 903.9 659.2 902.6 C659.4 901.3 662.5 900.5 664.0 897.2 C665.5 893.9 666.4 884.8 668.2 882.8Z"/>
<path class="k1 w"  d="M677.2 867.2 C679.4 865.8 686.0 867.1 688.0 868.6 C690.0 870.2 696.5 881.0 697.0 882.8 C697.5 884.6 693.7 885.9 692.8 886.4 C691.9 886.9 688.5 885.6 688.0 887.6 C687.5 889.6 689.3 904.6 688.0 906.8 C686.7 909.0 676.1 911.8 674.8 909.8 C673.5 907.8 676.3 889.1 675.4 886.4 C674.5 883.7 665.6 884.7 665.8 882.8 C666.0 880.9 675.0 868.6 677.2 867.2Z"/>
<polyline class="k1 n"  points="683.2,869.6 681.4,906.8"/>
<path class="k1 w"  d="M682.0 903.2 C686.4 898.5 705.9 891.6 712.0 890.6 C718.1 889.6 717.4 894.3 718.6 897.2 C719.8 900.1 723.5 903.8 719.2 908.0 C714.9 912.2 698.4 920.6 692.8 922.4 C687.2 924.2 687.4 922.0 685.6 918.8 C683.8 915.6 677.6 907.9 682.0 903.2Z"/>
<polyline class="k1 n"  points="689.2,904.4 692.8,922.4"/>
<polyline class="n" stroke="#000" stroke-width="3" points="682.6,908.0 698.8,904.4"/>
<path class="k1 w"  d="M688.0 887.6 C688.5 886.4 691.7 884.0 694.0 885.8 C696.3 887.6 704.0 898.2 705.4 900.8 C706.8 903.4 705.4 904.4 704.8 905.0 C704.2 905.6 702.5 906.4 700.6 905.0 C698.7 903.6 692.1 897.1 690.4 894.8 C688.7 892.5 687.5 888.8 688.0 887.6Z"/>
<g transform="translate(729.4 896.6) rotate(-12)"><ellipse cx="0" cy="0" rx="11.4" ry="8.2" class="k w"/><path class="n" stroke="#000" stroke-width="0.8" d="M-9 -5 L9 -5 M-11 -2 L11 -2 M-11 1 L11 1 M-10 4 L10 4 M-8 -6 L-8 6 M-5 -7 L-5 7 M-2 -8 L-2 8 M1 -8 L1 8 M4 -8 L4 8 M7 -6 L7 6"/></g>
<path class="k1 w"  d="M685.0 854.0 C687.7 852.3 690.4 851.1 692.2 852.8 C694.0 854.5 693.5 858.1 692.8 861.2 C692.1 864.3 691.7 865.0 689.2 866.0 C686.7 867.0 684.0 866.8 682.0 865.4 C680.0 864.0 680.1 862.7 680.8 860.0 C681.5 857.3 682.3 855.7 685.0 854.0Z"/>
<path class="" fill="#000" stroke="#000" stroke-width="1" d="M674.8 851.6 C674.7 848.2 673.8 846.7 676.0 844.4 C678.2 842.1 680.5 841.9 684.4 841.8 C688.3 841.6 691.0 842.1 692.8 843.8 C694.6 845.5 693.0 846.8 692.2 849.2 C691.4 851.6 690.3 851.5 689.2 854.0 C688.1 856.5 688.5 859.0 687.4 860.0 C686.3 861.0 685.9 857.9 684.4 858.2 C682.9 858.5 682.6 861.1 680.8 861.2 C679.0 861.3 678.0 861.0 676.6 858.8 C675.2 856.6 674.9 855.0 674.8 851.6Z"/>
<!-- camera man -->
<path class="k1 w"  d="M812.3 1008.2 C814.1 1006.1 829.0 1006.6 831.1 1008.2 C833.2 1009.8 833.0 1020.7 833.6 1024.1 C834.1 1027.4 837.1 1039.8 836.5 1041.9 C835.9 1044.0 828.8 1047.1 827.6 1044.9 C826.4 1042.6 825.1 1018.1 824.7 1019.1 C824.2 1020.1 823.9 1051.1 822.7 1054.8 C821.5 1058.4 813.7 1057.8 812.8 1055.2 C811.8 1052.7 813.3 1033.7 813.3 1029.0 C813.2 1024.3 810.5 1010.3 812.3 1008.2Z"/>
<path class="k1 w"  d="M812.3 1056.2 C814.4 1055.2 819.6 1054.5 822.7 1055.0 C825.7 1055.4 826.8 1057.1 827.6 1058.7 C828.4 1060.4 828.4 1062.2 826.6 1063.2 C824.9 1064.2 821.6 1064.3 818.7 1063.7 C815.8 1063.1 813.6 1061.7 812.3 1060.2 C811.0 1058.7 810.2 1057.3 812.3 1056.2Z"/>
<path class="k1 w"  d="M827.1 1044.9 C828.9 1043.9 833.5 1042.6 836.5 1042.9 C839.6 1043.2 841.5 1044.9 842.5 1046.3 C843.5 1047.8 843.3 1049.5 841.5 1050.3 C839.7 1051.1 836.3 1050.8 833.6 1050.3 C830.8 1049.8 828.9 1048.9 827.6 1047.8 C826.3 1046.7 825.3 1045.8 827.1 1044.9Z"/>
<path class="k1 w"  d="M816.7 967.1 C819.6 965.6 826.1 965.7 828.6 966.6 C831.1 967.6 833.0 969.6 833.6 973.6 C834.2 977.6 832.9 988.2 832.6 993.4 C832.3 998.6 834.9 1006.1 831.6 1008.2 C828.2 1010.4 813.2 1010.0 810.3 1007.7 C807.4 1005.5 812.4 998.0 812.3 993.4 C812.2 988.7 809.1 980.5 809.8 976.5 C810.5 972.6 813.9 968.6 816.7 967.1Z"/>
<path class="k1 w"  d="M835.5 969.1 C836.5 968.1 846.1 965.7 847.4 966.1 C848.8 966.6 849.9 972.5 848.9 973.6 C847.9 974.6 838.9 977.0 837.5 976.5 C836.2 976.1 834.6 970.1 835.5 969.1Z"/>
<ellipse class="k1 w"  cx="845.9" cy="974.1" rx="4.2" ry="4.2"/>
<path class="k1 w"  d="M833.6 973.6 C834.2 972.2 835.0 976.8 836.5 977.5 C838.0 978.3 841.7 976.9 842.5 978.0 C843.3 979.1 842.5 982.3 841.5 984.0 C840.5 985.6 838.0 987.7 836.5 987.9 C835.0 988.2 833.1 987.8 832.6 985.4 C832.1 983.1 832.9 974.9 833.6 973.6Z"/>
<path class="k1 w"  d="M811.3 973.6 C812.4 972.2 816.3 980.8 819.7 981.5 C823.1 982.1 828.8 978.3 831.6 977.5 C834.4 976.7 835.4 976.0 836.5 976.5 C837.7 977.0 839.0 979.0 838.5 980.5 C838.0 982.0 836.9 983.1 833.6 985.4 C830.3 987.8 822.2 994.2 818.7 994.9 C815.2 995.5 814.0 993.0 812.8 989.4 C811.5 985.9 810.1 974.9 811.3 973.6Z"/>
<path class="k1 w"  d="M814.8 953.8 C815.4 950.8 816.7 949.7 819.7 948.8 C822.7 947.9 825.3 947.7 827.6 949.8 C829.9 951.9 829.8 954.5 829.6 957.7 C829.4 961.0 828.7 961.8 826.6 963.7 C824.6 965.5 823.0 966.1 820.7 965.6 C818.4 965.2 818.1 964.5 816.7 961.7 C815.3 958.9 814.1 956.8 814.8 953.8Z"/>
<path class="k1 w"  d="M814.8 953.8 C813.6 951.2 811.8 948.8 812.3 945.8 C812.7 942.8 813.2 942.3 816.7 940.9 C820.3 939.5 824.3 939.2 827.6 939.9 C830.9 940.6 830.6 941.6 830.8 943.9 C831.0 946.2 830.3 948.8 828.6 949.8 C827.0 950.8 825.7 947.6 823.7 948.3 C821.6 949.0 821.2 950.8 819.7 952.8 C818.2 954.7 818.4 956.5 817.2 956.7 C816.1 957.0 815.9 956.3 814.8 953.8Z"/>
<!-- boy with dog -->
<path class="k1 w"  d="M651.5 523.0 C653.0 521.4 663.4 521.8 665.0 523.5 C666.6 525.2 667.0 537.2 667.5 540.0 C668.0 542.8 670.0 549.7 669.5 551.0 C669.0 552.3 663.0 554.5 662.0 553.0 C661.0 551.5 660.5 535.2 660.0 536.0 C659.5 536.8 658.1 558.6 657.0 561.0 C655.9 563.4 649.2 562.1 648.5 560.0 C647.8 557.9 649.7 543.7 650.0 540.0 C650.3 536.3 650.0 524.6 651.5 523.0Z"/>
<path class="k1 w"  d="M647.5 561.0 C648.9 559.8 654.5 559.4 657.0 560.0 C659.5 560.6 660.0 562.5 660.0 564.0 C660.0 565.5 659.0 567.1 657.0 567.5 C655.0 567.9 651.9 567.3 650.0 566.0 C648.1 564.7 646.1 562.2 647.5 561.0Z"/>
<path class="k1 w"  d="M662.0 552.5 C663.0 551.4 667.6 550.8 670.0 551.0 C672.4 551.2 673.6 552.4 674.0 553.5 C674.4 554.6 673.8 555.9 672.0 556.5 C670.2 557.1 667.0 557.3 665.0 556.5 C663.0 555.7 661.0 553.6 662.0 552.5Z"/>
<path class="k1 w"  d="M647.0 493.0 C647.2 491.1 648.4 489.7 650.0 489.0 C651.6 488.3 653.3 488.4 654.0 490.0 C654.7 491.6 654.2 494.4 653.0 496.0 C651.8 497.6 650.4 497.7 649.0 497.0 C647.6 496.3 646.8 494.9 647.0 493.0Z"/>
<path class="k1 w"  d="M651.5 492.0 C652.6 489.3 658.3 489.3 660.0 490.0 C661.7 490.7 663.4 494.3 664.0 497.0 C664.6 499.7 664.4 506.5 664.5 510.0 C664.6 513.5 666.4 521.3 664.5 523.0 C662.6 524.7 651.7 524.2 650.0 522.5 C648.3 520.8 651.3 514.1 651.5 510.0 C651.7 505.9 650.4 494.7 651.5 492.0Z"/>
<path class="k1 w"  d="M655.5 494.0 C656.0 491.7 659.8 490.1 661.0 492.0 C662.2 493.9 663.0 504.5 664.5 508.0 C666.0 511.5 670.8 515.6 672.0 518.0 C673.2 520.4 673.5 524.7 673.2 526.0 C672.9 527.3 670.4 528.3 669.5 527.5 C668.6 526.7 668.2 522.5 666.5 520.0 C664.8 517.5 658.5 512.5 657.0 509.0 C655.5 505.5 655.0 496.3 655.5 494.0Z"/>
<path class="k1 w"  d="M654.0 479.0 C655.5 477.1 657.8 475.8 660.0 476.0 C662.2 476.2 662.7 477.7 663.5 480.0 C664.3 482.3 664.3 483.7 663.5 486.0 C662.7 488.3 662.0 489.3 660.0 490.0 C658.0 490.7 656.5 490.4 655.0 489.0 C653.5 487.6 653.7 486.3 653.5 484.0 C653.3 481.7 652.5 480.9 654.0 479.0Z"/>
<path class="k1 w"  d="M654.0 481.0 C652.6 480.3 650.2 478.6 650.0 476.0 C649.8 473.4 650.7 471.9 653.0 470.0 C655.3 468.1 657.2 468.2 660.0 468.0 C662.8 467.8 662.9 467.6 665.0 469.0 C667.1 470.4 668.4 471.9 669.0 474.0 C669.6 476.1 668.5 477.5 667.5 478.0 C666.5 478.5 666.2 476.6 664.5 476.0 C662.8 475.4 661.9 474.8 660.0 475.5 C658.1 476.2 657.6 477.7 656.2 479.0 C654.8 480.3 655.4 481.7 654.0 481.0Z"/>
<polyline class="k1 n"  points="672.5,526.5 700.0,544.0"/>
<polyline class="k1 n"  points="673.2,525.0 699.0,540.0"/>
<path class="k1 w"  d="M682.0 546.0 C681.3 543.5 678.3 537.3 677.0 536.0 C675.7 534.7 674.2 536.8 674.0 538.0 C673.8 539.2 675.7 542.0 675.5 543.0 C675.3 544.0 672.8 543.2 673.0 544.0 C673.2 544.8 676.2 546.5 676.5 547.5 C676.8 548.5 673.8 549.4 674.5 550.0 C675.2 550.6 679.8 551.7 681.0 551.0 C682.2 550.3 682.7 548.5 682.0 546.0Z"/>
<path class="k1 w"  d="M684.0 545.0 C686.0 543.2 691.6 542.9 694.0 543.0 C696.4 543.1 698.5 544.0 700.0 546.0 C701.5 548.0 703.5 553.1 704.0 556.0 C704.5 558.9 704.1 562.9 703.5 565.0 C702.9 567.1 700.7 570.5 700.0 570.0 C699.3 569.5 699.9 563.5 699.0 562.0 C698.1 560.5 695.0 559.2 694.0 560.0 C693.0 560.8 692.8 566.2 692.0 567.0 C691.2 567.8 689.2 565.9 688.5 565.0 C687.8 564.1 687.5 560.5 687.0 561.0 C686.5 561.5 685.8 567.1 685.0 568.0 C684.2 568.9 682.1 569.0 681.5 567.0 C680.9 565.0 680.6 558.3 681.0 555.0 C681.4 551.7 682.0 546.8 684.0 545.0Z"/>
<path class="k1 w"  d="M700.0 540.0 C700.0 538.5 698.3 537.0 699.0 537.0 C699.7 537.0 702.2 539.7 704.0 540.0 C705.8 540.3 708.6 539.8 710.0 539.0 C711.4 538.2 712.0 535.0 712.5 535.5 C713.0 536.0 712.1 539.8 713.0 542.0 C713.9 544.2 717.7 547.3 718.0 549.0 C718.3 550.7 716.5 551.2 715.0 552.0 C713.5 552.8 711.2 554.0 709.0 554.0 C706.8 554.0 703.7 553.3 702.0 552.0 C700.3 550.7 699.3 548.0 699.0 546.0 C698.7 544.0 700.0 541.5 700.0 540.0Z"/>
</g>
<!-- example curve -->
<path d="M768 1031 C742 1050 712 1080 711.500 1120 C711 1165 748 1190 747.500 1222 C747 1250 722 1268 690 1275 C630 1288 560 1292 484 1296" fill="none" stroke="#aaa" stroke-width="6" stroke-linecap="round" opacity="0.5" transform="translate(1.5,2.500)"/>
<path d="M768 1031 C742 1050 712 1080 711.500 1120 C711 1165 748 1190 747.500 1222 C747 1250 722 1268 690 1275 C630 1288 560 1292 484 1296" fill="none" stroke="#3c3c3c" stroke-width="5" stroke-linecap="round"/>
<!-- footer -->
<text x="206" y="1299" font-size="21.5" fill="#000" textLength="56" lengthAdjust="spacingAndGlyphs">Daisy</text>
<text x="422" y="1299" font-size="21.5" fill="#000" textLength="42" lengthAdjust="spacingAndGlyphs">Jack</text>
<text x="693" y="1299" font-size="21.5" fill="#000" textLength="23" lengthAdjust="spacingAndGlyphs">Jill</text>
<rect x="62" y="1329.500" width="151.500" height="24" fill="#000"/>
<text x="68" y="1347.500" font-size="17.500" fill="#fff" textLength="135" lengthAdjust="spacingAndGlyphs">PHOTOCOPIABLE</text>
<text x="220" y="1347.500" font-size="17" fill="#000" textLength="640" lengthAdjust="spacingAndGlyphs">© Cambridge University Press 2017 Kid’s Box 3 BE Updated 2nd Ed. End of level test part 1</text>
<!-- liveworksheets logo -->
<g>
<rect x="692.500" y="1378.500" width="12" height="10.800" rx="2" fill="#8cc152"/>
<rect x="705.500" y="1378.500" width="12" height="10.800" rx="2" fill="#f5a431"/>
<rect x="692.500" y="1390.300" width="12" height="10.800" rx="2" fill="#4a8fd6"/>
<rect x="705.500" y="1390.300" width="12" height="10.800" rx="2" fill="#e4504f"/>
<text x="698.500" y="1387.300" font-size="9" font-weight="bold" fill="#fff" text-anchor="middle">L</text>
<text x="711.500" y="1387.300" font-size="9" font-weight="bold" fill="#fff" text-anchor="middle">I</text>
<text x="698.500" y="1399" font-size="9" font-weight="bold" fill="#fff" text-anchor="middle">V</text>
<text x="711.500" y="1399" font-size="9" font-weight="bold" fill="#fff" text-anchor="middle">E</text>
<text x="720" y="1400" font-size="28.500" font-weight="bold" fill="#1f4585" textLength="267" lengthAdjust="spacingAndGlyphs">LIVEWORKSHEETS</text>
</g>
</svg>
</body>
</html>
